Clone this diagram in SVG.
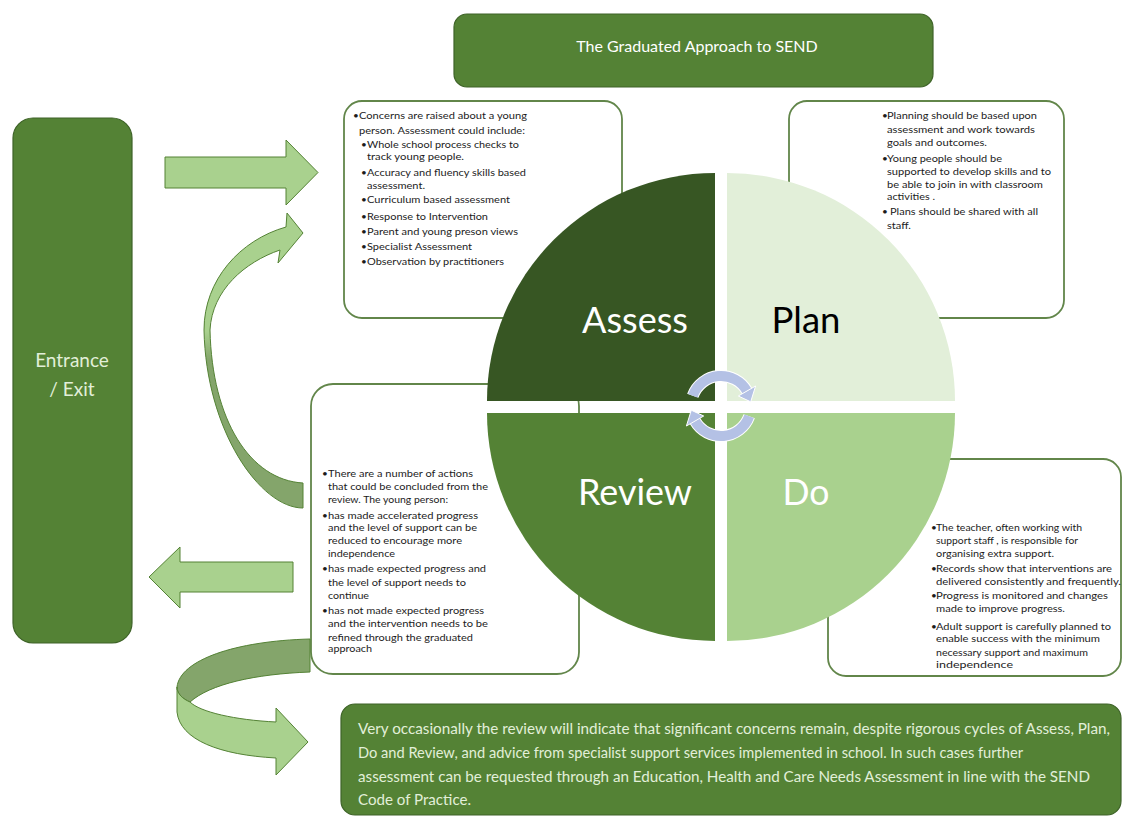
<svg xmlns="http://www.w3.org/2000/svg" width="1122" height="816" viewBox="0 0 1122 816">
<defs>
<style>
.dg{fill:#548235;stroke:#3e6328;stroke-width:1.2}
.wb{fill:#fff;stroke:#62864a;stroke-width:1.8}
.ar{fill:#a9d18e;stroke:#548235;stroke-width:1}
.ard{fill:#84a56b;stroke:#548235;stroke-width:1}
.t{font-family:Lato,"Open Sans",sans-serif;font-size:10px;fill:#1c1c1c}
.q{font-family:Lato,"Open Sans",sans-serif;font-size:36px;text-anchor:middle}
.lt{font-family:Lato,"Open Sans",sans-serif;fill:#e2efd9}
.ca{fill:none;stroke:#b4c1e5;stroke-width:10}
.cw{fill:none;stroke:#fff;stroke-width:12}
.ch{fill:#b4c1e5;stroke:#fff;stroke-width:1}
</style>
<linearGradient id="gUp" gradientUnits="userSpaceOnUse" x1="0" y1="213" x2="0" y2="508">
<stop offset="0.4" stop-color="#a9d18e"/><stop offset="0.5" stop-color="#84a56b"/>
</linearGradient>
</defs>
<rect width="1122" height="816" fill="#fff"/>

<g id="title">
<rect class="dg" x="454" y="14" width="479" height="73" rx="13"/>
<text x="697" y="52" font-family="Lato, 'Open Sans', sans-serif" font-size="16" fill="#fff" text-anchor="middle">The Graduated Approach to SEND</text>
</g>

<g id="entrance">
<rect class="dg" x="13" y="118" width="119" height="525" rx="20"/>
<text class="lt" x="72" y="367" font-size="19" text-anchor="middle">Entrance</text>
<text class="lt" x="72" y="396" font-size="19" text-anchor="middle">/ Exit</text>
</g>

<g id="assess-box">
<rect class="wb" x="344" y="101" width="278" height="217" rx="18"/>
<text class="t" y="118.5"><tspan x="353">•</tspan><tspan x="359" textLength="168" lengthAdjust="spacingAndGlyphs">Concerns are raised about a young</tspan></text>
<text class="t" x="359" y="133.5" textLength="166" lengthAdjust="spacingAndGlyphs">person. Assessment could include:</text>
<text class="t" y="147.5"><tspan x="361">•</tspan><tspan x="367" textLength="152" lengthAdjust="spacingAndGlyphs">Whole school process checks to</tspan></text>
<text class="t" x="367" y="159.5" textLength="97" lengthAdjust="spacingAndGlyphs">track  young people.</text>
<text class="t" y="175.5"><tspan x="361">•</tspan><tspan x="367" textLength="159" lengthAdjust="spacingAndGlyphs">Accuracy and fluency skills based</tspan></text>
<text class="t" x="367" y="188.5" textLength="58" lengthAdjust="spacingAndGlyphs">assessment.</text>
<text class="t" y="202.5"><tspan x="361">•</tspan><tspan x="367" textLength="143" lengthAdjust="spacingAndGlyphs">Curriculum based assessment</tspan></text>
<text class="t" y="219.5"><tspan x="361">•</tspan><tspan x="367" textLength="121" lengthAdjust="spacingAndGlyphs">Response to Intervention</tspan></text>
<text class="t" y="234.5"><tspan x="361">•</tspan><tspan x="367" textLength="151" lengthAdjust="spacingAndGlyphs">Parent and young preson views</tspan></text>
<text class="t" y="249.5"><tspan x="361">•</tspan><tspan x="367" textLength="105" lengthAdjust="spacingAndGlyphs">Specialist Assessment</tspan></text>
<text class="t" y="264.5"><tspan x="361">•</tspan><tspan x="367" textLength="137" lengthAdjust="spacingAndGlyphs">Observation by practitioners</tspan></text>
</g>

<g id="plan-box">
<rect class="wb" x="789" y="101" width="275" height="217" rx="18"/>
<text class="t" y="118.5"><tspan x="882">•</tspan><tspan x="887" textLength="150" lengthAdjust="spacingAndGlyphs">Planning should be based upon</tspan></text>
<text class="t" x="887" y="132.5" textLength="148" lengthAdjust="spacingAndGlyphs">assessment and  work towards</text>
<text class="t" x="887" y="145.5" textLength="100" lengthAdjust="spacingAndGlyphs">goals and outcomes.</text>
<text class="t" y="161.5"><tspan x="882">•</tspan><tspan x="887" textLength="115" lengthAdjust="spacingAndGlyphs">Young people should be</tspan></text>
<text class="t" x="887" y="174.5" textLength="164" lengthAdjust="spacingAndGlyphs">supported to develop skills and to</text>
<text class="t" x="887" y="187.5" textLength="156" lengthAdjust="spacingAndGlyphs">be able to join in with classroom</text>
<text class="t" x="887" y="199.5" textLength="48" lengthAdjust="spacingAndGlyphs">activities .</text>
<text class="t" y="214.5"><tspan x="882">•</tspan><tspan x="890" textLength="148" lengthAdjust="spacingAndGlyphs">Plans should be shared with all</tspan></text>
<text class="t" x="887" y="228.5" textLength="24" lengthAdjust="spacingAndGlyphs">staff.</text>
</g>

<g id="review-box">
<rect class="wb" x="311" y="384" width="268" height="290" rx="22"/>
<text class="t" y="476.5"><tspan x="322">•</tspan><tspan x="328" textLength="145" lengthAdjust="spacingAndGlyphs">There are a number of actions</tspan></text>
<text class="t" x="328" y="489.5" textLength="160" lengthAdjust="spacingAndGlyphs">that could be concluded from the</text>
<text class="t" x="328" y="502.5" textLength="120" lengthAdjust="spacingAndGlyphs">review. The young person:</text>
<text class="t" y="518.5"><tspan x="322">•</tspan><tspan x="328" textLength="150" lengthAdjust="spacingAndGlyphs">has made accelerated progress</tspan></text>
<text class="t" x="328" y="530.5" textLength="149" lengthAdjust="spacingAndGlyphs">and the level of support can be</text>
<text class="t" x="328" y="543.5" textLength="134" lengthAdjust="spacingAndGlyphs">reduced to encourage more</text>
<text class="t" x="328" y="556.5" textLength="67" lengthAdjust="spacingAndGlyphs">independence</text>
<text class="t" y="571.5"><tspan x="322">•</tspan><tspan x="328" textLength="158" lengthAdjust="spacingAndGlyphs">has made expected progress and</tspan></text>
<text class="t" x="328" y="585.5" textLength="138" lengthAdjust="spacingAndGlyphs">the level of support needs to</text>
<text class="t" x="328" y="598.5" textLength="41" lengthAdjust="spacingAndGlyphs">continue</text>
<text class="t" y="613.5"><tspan x="322">•</tspan><tspan x="328" textLength="156" lengthAdjust="spacingAndGlyphs">has not made expected progress</tspan></text>
<text class="t" x="328" y="626.5" textLength="160" lengthAdjust="spacingAndGlyphs">and the intervention needs to  be</text>
<text class="t" x="328" y="640.5" textLength="145" lengthAdjust="spacingAndGlyphs">refined through the graduated</text>
<text class="t" x="328" y="651.5" textLength="44" lengthAdjust="spacingAndGlyphs">approach</text>
</g>

<g id="do-box">
<rect class="wb" x="828" y="459" width="293" height="217" rx="18"/>
<text class="t" y="530.5"><tspan x="931">•</tspan><tspan x="936" textLength="146" lengthAdjust="spacingAndGlyphs">The teacher, often working with</tspan></text>
<text class="t" x="936" y="543.5" textLength="142" lengthAdjust="spacingAndGlyphs">support staff , is responsible for</text>
<text class="t" x="936" y="556.5" textLength="118" lengthAdjust="spacingAndGlyphs">organising extra support.</text>
<text class="t" y="571.5"><tspan x="931">•</tspan><tspan x="936" textLength="176" lengthAdjust="spacingAndGlyphs">Records show that interventions are</tspan></text>
<text class="t" x="936" y="584.5" textLength="185" lengthAdjust="spacingAndGlyphs">delivered  consistently and frequently.</text>
<text class="t" y="598.5"><tspan x="931">•</tspan><tspan x="936" textLength="172" lengthAdjust="spacingAndGlyphs">Progress is monitored and changes</tspan></text>
<text class="t" x="936" y="611.5" textLength="129" lengthAdjust="spacingAndGlyphs">made to improve progress.</text>
<text class="t" y="629.5"><tspan x="931">•</tspan><tspan x="936" textLength="175" lengthAdjust="spacingAndGlyphs">Adult support is carefully planned to</tspan></text>
<text class="t" x="936" y="641.5" textLength="164" lengthAdjust="spacingAndGlyphs">enable success with the minimum</text>
<text class="t" x="936" y="655.5" textLength="152" lengthAdjust="spacingAndGlyphs">necessary support and maximum</text>
<text class="t" x="936" y="667.5" textLength="77" lengthAdjust="spacingAndGlyphs">independence</text>
</g>

<g id="assess">
<path d="M715,401 L487,401 A228,228 0 0 1 715,173 Z" fill="#375623"/>
<text class="q" x="635" y="333" fill="#fff" textLength="106" lengthAdjust="spacingAndGlyphs">Assess</text>
</g>
<g id="plan">
<path d="M727,401 L727,173 A228,228 0 0 1 955,401 Z" fill="#e2efd9"/>
<text class="q" x="806" y="333" fill="#000" textLength="69" lengthAdjust="spacingAndGlyphs">Plan</text>
</g>
<g id="review">
<path d="M715,413 L715,641 A228,228 0 0 1 487,413 Z" fill="#548235"/>
<text class="q" x="635" y="505" fill="#fff" textLength="114" lengthAdjust="spacingAndGlyphs">Review</text>
</g>
<g id="do">
<path d="M727,413 L955,413 A228,228 0 0 1 727,641 Z" fill="#a9d18e"/>
<text class="q" x="806" y="505" fill="#fff" textLength="47" lengthAdjust="spacingAndGlyphs">Do</text>
</g>

<g id="further-assessment">
<rect class="dg" x="341" y="704" width="780" height="111" rx="14"/>
<text class="lt" x="358" y="734" font-size="15" textLength="752" lengthAdjust="spacingAndGlyphs">Very occasionally the review will indicate that significant concerns remain, despite rigorous cycles of Assess, Plan,</text>
<text class="lt" x="358" y="758" font-size="15" textLength="665" lengthAdjust="spacingAndGlyphs">Do and Review, and advice from specialist support services implemented in school. In such cases further</text>
<text class="lt" x="358" y="782" font-size="15" textLength="732" lengthAdjust="spacingAndGlyphs">assessment can be requested through an Education, Health and Care Needs Assessment in line with the SEND</text>
<text class="lt" x="358" y="805" font-size="15" textLength="113" lengthAdjust="spacingAndGlyphs">Code of Practice.</text>
</g>

<g id="connectors">
<polygon class="ar" points="165,157 286,157 286,140 318,172.5 286,205 286,188 165,188"/>
<path d="M303,508 C260,508 206,430 204,330 C204,280 240,240 286,227 L287,213 L303,233 L278,263 L280,250 C245,262 212,290 210,330 C212,420 250,480 303,483 Z" fill="url(#gUp)" stroke="#548235" stroke-width="1"/>
<polygon class="ar" points="293,562 180,562 180,547 149,577 180,608 180,592 293,592"/>
<path class="ard" d="M310,639 C235,641 180,660 177,687 C177,694 183,699 190,702 C210,684 255,674 310,672 Z"/>
<path class="ar" d="M177,687 L177,712 C180,740 220,755 276,758 L276,775 L308,742 L276,708 L276,722 C235,720 200,712 190,702 C183,699 177,694 177,687 Z"/>
<path class="cw" d="M692.8,395.7 A30,30 0 0 1 747,391"/>
<path class="ca" d="M692.8,395.7 A30,30 0 0 1 747,391"/>
<polygon class="ch" points="738.3,396 755.6,386 750.7,401.8"/>
<path class="cw" d="M749.2,416.3 A30,30 0 0 1 695,421"/>
<path class="ca" d="M749.2,416.3 A30,30 0 0 1 695,421"/>
<polygon class="ch" points="703.7,416 686.4,426 691.3,410.2"/>
</g>
</svg>
